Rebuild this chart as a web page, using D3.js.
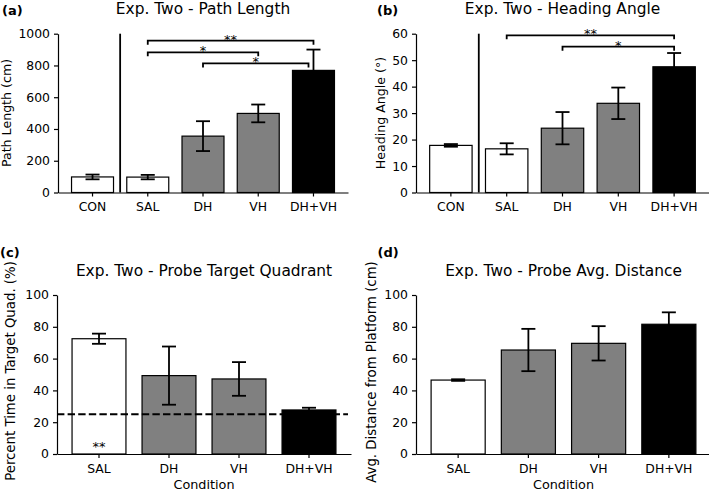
<!DOCTYPE html>
<html>
<head>
<meta charset="utf-8">
<script src="https://cdn.jsdelivr.net/npm/d3@7"></script>
<style>
  body { margin: 0; background: #fff; }
  svg { display: block; font-family: "DejaVu Sans", sans-serif; }
</style>
</head>
<body>
<svg id="fig" width="709" height="491"></svg>
<script>
// conditions
var condTrain = ["CON", "SAL", "DH", "VH", "DH+VH"];
var condProbe = ["SAL", "DH", "VH", "DH+VH"];

// (a) path length, mean and SEM
var pathLength = [98, 97, 355, 498, 769];
var pathLengthErr = [15, 14, 94, 56, 131];

// (b) heading angle
var headingAngle = [17.8, 16.5, 24.3, 33.7, 47.5];
var headingAngleErr = [0.5, 2.1, 6.1, 5.95, 5.2];

// (c) probe % time in target quadrant
var probeQuad = [72.5, 49.3, 47.2, 27.7];
var probeQuadErr = [3.2, 18.3, 10.6, 1.4];
var chance = 25;

// (d) probe avg distance
var probeDist = [46.5, 65.4, 69.6, 81.6];
var probeDistErr = [0.5, 13.3, 10.8, 7.5];

// significance brackets: from, to, height, label (toShift in category units)
var sigPath = [
  {from: "SAL", to: "DH+VH", y: 956, label: "**", toShift: 0},
  {from: "SAL", to: "VH", y: 883, label: "*", toShift: 0},
  {from: "DH", to: "DH+VH", y: 813, label: "*", toShift: -0.09}
];
var sigHeading = [
  {from: "SAL", to: "DH+VH", y: 59.4, label: "**", toShift: 0},
  {from: "DH", to: "DH+VH", y: 55.1, label: "*", toShift: 0}
];

var fillFor = {"CON": "#ffffff", "SAL": "#ffffff", "DH": "#808080", "VH": "#808080", "DH+VH": "#000000"};

var svg = d3.select("#fig");

function drawPanel(p) {
  var g = svg.append("g");

  var x = d3.scaleBand()
      .domain(p.cats)
      .range([p.left, p.right])
      .paddingInner(p.padIn)
      .paddingOuter(p.padOut);

  var y = d3.scaleLinear()
      .domain([0, p.ymax])
      .range([p.bottom, p.top]);

  var data = p.cats.map(function(c, i) { return {cat: c, v: p.values[i], e: p.errs[i]}; });

  // bars
  g.selectAll(".bar")
      .data(data)
    .enter().append("rect")
      .attr("class", "bar")
      .attr("x", function(d) { return x(d.cat); })
      .attr("y", function(d) { return y(d.v); })
      .attr("width", x.bandwidth())
      .attr("height", function(d) { return y(0) - y(d.v); })
      .style("fill", function(d) { return fillFor[d.cat]; })
      .style("stroke", "#000")
      .style("stroke-width", 1.2);

  // error bars
  var cx = function(d) { return x(d.cat) + x.bandwidth() / 2; };
  var eb = g.selectAll(".err")
      .data(data)
    .enter().append("g")
      .attr("class", "err")
      .style("stroke", "#000")
      .style("stroke-width", 1.8);
  eb.append("line")
      .attr("x1", cx).attr("x2", cx)
      .attr("y1", function(d) { return y(d.v - d.e); })
      .attr("y2", function(d) { return y(d.v + d.e); });
  eb.append("line")
      .attr("x1", function(d) { return cx(d) - 7; })
      .attr("x2", function(d) { return cx(d) + 7; })
      .attr("y1", function(d) { return y(d.v + d.e); })
      .attr("y2", function(d) { return y(d.v + d.e); });
  eb.append("line")
      .attr("x1", function(d) { return cx(d) - 7; })
      .attr("x2", function(d) { return cx(d) + 7; })
      .attr("y1", function(d) { return y(d.v - d.e); })
      .attr("y2", function(d) { return y(d.v - d.e); });

  // axes
  var yAxis = g.append("g")
      .attr("transform", "translate(" + p.left + ",0)")
      .call(d3.axisLeft(y)
        .tickValues(d3.range(0, p.ymax + 0.001, p.ystep))
        .tickFormat(d3.format("d"))
        .tickSize(4).tickPadding(4).tickSizeOuter(0));
  var xAxis = g.append("g")
      .attr("transform", "translate(0," + p.bottom + ")")
      .call(d3.axisBottom(x).tickSize(4).tickPadding(6).tickSizeOuter(0));
  [yAxis, xAxis].forEach(function(a) {
    a.select(".domain").style("stroke", "#000").style("stroke-width", 1.2);
    a.selectAll(".tick line").style("stroke", "#000").style("stroke-width", 1.2);
    a.selectAll(".tick text")
        .style("font-family", "DejaVu Sans")
        .style("font-size", "12.4px")
        .style("fill", "#000");
  });
  xAxis.selectAll(".tick text").attr("dy", "0.72em");

  // vertical separator between control and injected groups
  if (p.cats[0] == "CON") {
    var sx = (x("CON") + x.bandwidth() + x("SAL")) / 2;
    g.append("line")
        .attr("x1", sx).attr("x2", sx)
        .attr("y1", y(p.ymax)).attr("y2", y(0))
        .style("stroke", "#000")
        .style("stroke-width", 1.8);
  }

  // significance brackets
  (p.sig || []).forEach(function(s) {
    var x1 = x(s.from) + x.bandwidth() / 2;
    var x2 = x(s.to) + x.bandwidth() / 2 + s.toShift * x.step();
    var yy = y(s.y);
    g.append("path")
        .attr("d", "M" + x1 + "," + (yy + 4) + "V" + yy + "H" + x2 + "V" + (yy + 4))
        .style("fill", "none")
        .style("stroke", "#000")
        .style("stroke-width", 1.8);
    g.append("text")
        .attr("x", (x1 + x2) / 2)
        .attr("y", yy + 3)
        .attr("text-anchor", "middle")
        .style("font-family", "DejaVu Sans")
        .style("font-size", "13px")
        .style("fill", "#000")
        .text(s.label);
  });

  // chance line
  if (p.chance != null) {
    g.append("line")
        .attr("x1", p.left).attr("x2", p.right - 3)
        .attr("y1", y(p.chance)).attr("y2", y(p.chance))
        .style("stroke", "#000")
        .style("stroke-width", 2)
        .style("stroke-dasharray", "7.4,3.2");
  }
  if (p.inBar) {
    g.append("text")
        .attr("x", x(p.inBar.cat) + x.bandwidth() / 2)
        .attr("y", p.bottom - 3)
        .attr("text-anchor", "middle")
        .style("font-family", "DejaVu Sans")
        .style("font-size", "13px")
        .style("fill", "#000")
        .text(p.inBar.label);
  }

  // title, panel letter, axis labels
  g.append("text")
      .attr("x", (p.left + p.right) / 2)
      .attr("y", p.titleY)
      .attr("text-anchor", "middle")
      .style("font-size", "15.4px")
      .text(p.title);
  g.append("text")
      .attr("x", p.letterX)
      .attr("y", p.letterY)
      .style("font-size", "13px")
      .style("font-weight", "bold")
      .text(p.letter);
  g.append("text")
      .attr("transform", "translate(" + p.ylabX + "," + p.ylabY + ") rotate(-90)")
      .attr("text-anchor", "middle")
      .style("font-size", p.ylabSize)
      .text(p.ylabel);
  if (p.xlabel) {
    g.append("text")
        .attr("x", (p.left + p.right) / 2)
        .attr("y", p.bottom + 34.5)
        .attr("text-anchor", "middle")
        .style("font-size", "12.8px")
        .text(p.xlabel);
  }
}

drawPanel({
  cats: condTrain, values: pathLength, errs: pathLengthErr,
  left: 58, right: 348, top: 33.7, bottom: 192.5, padIn: 0.24, padOut: 0.245,
  ymax: 1000, ystep: 200, sig: sigPath,
  title: "Exp. Two - Path Length", titleY: 13.5, letter: "(a)", letterX: 2, letterY: 14.5,
  ylabel: "Path Length (cm)", ylabX: 11, ylabY: 113, ylabSize: "12.6px"
});
drawPanel({
  cats: condTrain, values: headingAngle, errs: headingAngleErr,
  left: 416, right: 709, top: 33.7, bottom: 192.5, padIn: 0.24, padOut: 0.245,
  ymax: 60, ystep: 10, sig: sigHeading,
  title: "Exp. Two - Heading Angle", titleY: 13.5, letter: "(b)", letterX: 377, letterY: 14.5,
  ylabel: "Heading Angle (°)", ylabX: 385, ylabY: 113, ylabSize: "12.6px"
});
drawPanel({
  cats: condProbe, values: probeQuad, errs: probeQuadErr,
  left: 57, right: 351, top: 295, bottom: 454, padIn: 0.23, padOut: 0.215,
  ymax: 100, ystep: 20, chance: chance, inBar: {cat: "SAL", label: "**"},
  title: "Exp. Two - Probe Target Quadrant", titleY: 275.5, letter: "(c)", letterX: 0, letterY: 256.5,
  ylabel: "Percent Time in Target Quad. (%)", ylabX: 14.5, ylabY: 371, ylabSize: "13.3px", xlabel: "Condition"
});
drawPanel({
  cats: condProbe, values: probeDist, errs: probeDistErr,
  left: 416, right: 711, top: 295, bottom: 454, padIn: 0.23, padOut: 0.215,
  ymax: 100, ystep: 20,
  title: "Exp. Two - Probe Avg. Distance", titleY: 275.5, letter: "(d)", letterX: 377.5, letterY: 256.5,
  ylabel: "Avg. Distance from Platform (cm)", ylabX: 375.5, ylabY: 372, ylabSize: "13.3px", xlabel: "Condition"
});
</script>
</body>
</html>
